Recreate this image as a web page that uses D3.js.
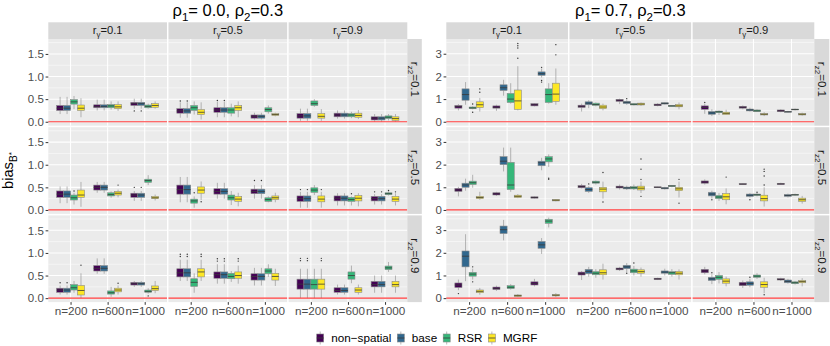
<!DOCTYPE html>
<html>
<head>
<meta charset="utf-8">
<script src="https://cdn.jsdelivr.net/npm/d3@7"></script>
<style>
  body { margin: 0; background: #fff; }
  text { font-family: "Liberation Sans", Arial, sans-serif; }
</style>
</head>
<body>
<div id="chart"></div>
<script>
// categories
var methods = ["non\u2212spatial", "base", "RSR", "MGRF"];
var methodColors = ["#440154", "#31688E", "#35B779", "#FDE725"];
var sizes = ["n=200", "n=600", "n=1000"];
var gammaLevels = ["0.1", "0.5", "0.9"];
var z2Levels = ["0.1", "0.5", "0.9"];

// tick values
var ticksLeft = [0, 0.5, 1, 1.5];
var minorLeft = [0.25, 0.75, 1.25, 1.75];
var ticksRight = [0, 1, 2, 3];
var minorRight = [0.5, 1.5, 2.5, 3.5];

// box stats: [lower whisker, q1, median, q3, upper whisker, [outliers]]
// per row: 3 columns (r_gamma) x 3 sample sizes x 4 methods

// rho1 = 0.0, rho2 = 0.3
var rho00_z01 = [
  [[[0.17,0.25,0.30,0.36,0.55,[]],[0.17,0.25,0.30,0.36,0.55,[]],[0.28,0.39,0.44,0.49,0.57,[]],[0.10,0.25,0.30,0.37,0.52,[]]],
   [[0.25,0.31,0.34,0.375,0.49,[]],[0.25,0.31,0.34,0.375,0.49,[]],[0.27,0.31,0.35,0.38,0.45,[]],[0.24,0.29,0.33,0.38,0.45,[]]],
   [[0.29,0.36,0.40,0.43,0.51,[0.24]],[0.29,0.36,0.40,0.43,0.51,[0.24]],[0.29,0.31,0.34,0.37,0.40,[]],[0.29,0.32,0.36,0.40,0.45,[]]]],
  [[[0.09,0.19,0.24,0.29,0.43,[0.46]],[0.09,0.19,0.24,0.29,0.43,[0.46]],[0.16,0.25,0.31,0.36,0.45,[]],[0.05,0.16,0.21,0.27,0.43,[]]],
   [[0.10,0.21,0.26,0.31,0.44,[0.47]],[0.10,0.21,0.26,0.31,0.44,[0.47]],[0.12,0.19,0.26,0.31,0.40,[]],[0.10,0.25,0.31,0.36,0.45,[]]],
   [[0.05,0.08,0.12,0.15,0.20,[]],[0.05,0.08,0.12,0.15,0.20,[]],[0.18,0.22,0.27,0.31,0.36,[]],[0.12,0.14,0.16,0.18,0.20,[]]]],
  [[[0.02,0.08,0.13,0.18,0.29,[]],[0.02,0.08,0.13,0.18,0.29,[]],[0.33,0.36,0.40,0.46,0.50,[]],[0.02,0.08,0.12,0.18,0.28,[]]],
   [[0.07,0.11,0.15,0.19,0.25,[]],[0.07,0.11,0.15,0.19,0.25,[]],[0.08,0.11,0.15,0.18,0.22,[]],[0.06,0.10,0.14,0.19,0.26,[]]],
   [[0.0,0.04,0.08,0.11,0.17,[]],[0.0,0.04,0.08,0.11,0.17,[]],[0.03,0.07,0.10,0.13,0.17,[]],[0.0,0.03,0.07,0.11,0.17,[]]]]
];
var rho00_z05 = [
  [[[0.15,0.28,0.35,0.42,0.52,[]],[0.15,0.28,0.35,0.42,0.52,[]],[0.12,0.22,0.27,0.33,0.38,[0.42]],[0.07,0.28,0.33,0.44,0.62,[]]],
   [[0.38,0.44,0.50,0.55,0.62,[]],[0.38,0.44,0.50,0.55,0.62,[]],[0.27,0.31,0.34,0.38,0.41,[]],[0.28,0.33,0.37,0.41,0.45,[0.55]]],
   [[0.20,0.28,0.33,0.37,0.42,[0.50]],[0.20,0.28,0.33,0.37,0.42,[0.50]],[0.55,0.61,0.65,0.68,0.77,[]],[0.21,0.25,0.27,0.30,0.34,[]]]],
  [[[0.17,0.35,0.45,0.55,0.73,[]],[0.17,0.35,0.45,0.55,0.73,[]],[0.05,0.15,0.20,0.24,0.30,[0.38]],[0.22,0.37,0.44,0.51,0.63,[0.18]]],
   [[0.25,0.35,0.41,0.47,0.60,[]],[0.25,0.35,0.41,0.47,0.60,[]],[0.11,0.22,0.27,0.33,0.42,[]],[0.08,0.19,0.24,0.30,0.38,[]]],
   [[0.25,0.36,0.41,0.46,0.55,[0.65]],[0.25,0.36,0.41,0.46,0.55,[0.65]],[0.17,0.19,0.23,0.27,0.30,[]],[0.17,0.23,0.27,0.31,0.38,[]]]],
  [[[0.05,0.19,0.25,0.31,0.40,[0.45]],[0.05,0.19,0.25,0.31,0.40,[0.45]],[0.33,0.39,0.44,0.49,0.55,[]],[0.05,0.18,0.24,0.31,0.40,[0.45]]],
   [[0.10,0.20,0.26,0.31,0.37,[]],[0.10,0.20,0.26,0.31,0.37,[]],[0.10,0.19,0.23,0.28,0.30,[0.36]],[0.08,0.20,0.26,0.32,0.37,[]]],
   [[0.12,0.20,0.25,0.30,0.35,[0.40]],[0.12,0.20,0.25,0.30,0.35,[0.40]],[0.32,0.34,0.36,0.38,0.41,[0.43]],[0.10,0.19,0.24,0.30,0.37,[0.40]]]]
];
var rho00_z09 = [
  [[[0.08,0.13,0.18,0.22,0.28,[0.34]],[0.08,0.13,0.18,0.22,0.28,[0.34]],[0.12,0.18,0.23,0.30,0.38,[]],[0.0,0.07,0.17,0.28,0.55,[0.73]]],
   [[0.54,0.60,0.66,0.72,0.88,[]],[0.54,0.60,0.66,0.72,0.88,[]],[0.03,0.09,0.12,0.16,0.25,[]],[0.08,0.14,0.18,0.22,0.28,[0.33]]],
   [[0.25,0.29,0.32,0.35,0.38,[]],[0.25,0.29,0.32,0.35,0.38,[]],[0.10,0.13,0.15,0.18,0.22,[0.05]],[0.11,0.17,0.21,0.27,0.38,[]]]],
  [[[0.38,0.47,0.56,0.65,0.85,[0.92,0.97]],[0.38,0.47,0.56,0.65,0.85,[0.92,0.97]],[0.12,0.26,0.35,0.43,0.55,[]],[0.38,0.47,0.58,0.65,0.85,[0.92,0.97]]],
   [[0.32,0.44,0.52,0.58,0.75,[0.82,0.87]],[0.32,0.44,0.52,0.58,0.75,[0.82,0.87]],[0.36,0.43,0.48,0.55,0.60,[]],[0.32,0.44,0.50,0.58,0.72,[0.82,0.87]]],
   [[0.28,0.40,0.48,0.54,0.67,[]],[0.28,0.40,0.48,0.54,0.67,[]],[0.47,0.54,0.60,0.65,0.75,[]],[0.27,0.40,0.48,0.55,0.65,[]]]],
  [[[0.0,0.20,0.31,0.42,0.65,[0.83,0.88]],[0.0,0.20,0.31,0.42,0.65,[0.83,0.88]],[0.0,0.20,0.30,0.42,0.65,[]],[0.0,0.20,0.31,0.42,0.65,[0.83,0.88]]],
   [[0.08,0.13,0.17,0.23,0.30,[]],[0.08,0.13,0.17,0.23,0.30,[]],[0.33,0.42,0.50,0.58,0.72,[]],[0.08,0.13,0.18,0.23,0.30,[]]],
   [[0.12,0.25,0.30,0.37,0.50,[]],[0.12,0.25,0.30,0.37,0.50,[]],[0.58,0.63,0.67,0.71,0.80,[]],[0.12,0.25,0.30,0.37,0.50,[]]]]
];

// rho1 = 0.7, rho2 = 0.3
var rho07_z01 = [
  [[[0.50,0.60,0.67,0.72,0.78,[]],[0.75,0.95,1.20,1.45,1.75,[]],[0.55,0.58,0.61,0.65,0.68,[0.42,0.78]],[0.45,0.62,0.75,0.88,1.05,[1.30,1.45]]],
   [[0.48,0.60,0.64,0.70,0.75,[]],[1.15,1.38,1.50,1.63,1.85,[]],[0.80,0.85,1.00,1.25,1.70,[]],[0.50,0.55,0.92,1.40,2.45,[2.80,3.25,3.35,3.45]]],
   [[0.68,0.70,0.75,0.80,0.82,[]],[1.95,2.05,2.12,2.20,2.35,[1.75,1.82,2.40]],[0.80,0.85,1.20,1.45,1.70,[]],[0.75,0.90,1.22,1.70,2.35,[2.95,3.40]]]],
  [[[0.45,0.63,0.68,0.73,0.80,[]],[0.60,0.75,0.82,0.88,0.95,[]],[0.68,0.72,0.76,0.82,0.85,[]],[0.50,0.58,0.65,0.73,0.80,[]]],
   [[0.78,0.90,0.95,0.98,1.02,[]],[0.75,0.80,0.86,0.90,0.95,[1.02]],[0.72,0.74,0.77,0.80,0.82,[]],[0.70,0.74,0.78,0.82,0.85,[]]],
   [[0.68,0.71,0.74,0.78,0.82,[]],[0.76,0.78,0.81,0.84,0.86,[]],[0.66,0.67,0.70,0.72,0.73,[]],[0.55,0.66,0.70,0.76,0.85,[]]]],
  [[[0.35,0.55,0.63,0.70,0.78,[0.85]],[0.25,0.33,0.39,0.45,0.55,[]],[0.30,0.40,0.44,0.47,0.50,[]],[0.30,0.32,0.37,0.42,0.53,[]]],
   [[0.55,0.60,0.64,0.68,0.72,[]],[0.45,0.48,0.52,0.56,0.62,[]],[0.43,0.45,0.48,0.52,0.55,[]],[0.25,0.30,0.33,0.36,0.42,[]]],
   [[0.42,0.45,0.48,0.52,0.55,[]],[0.40,0.42,0.44,0.46,0.48,[]],[0.50,0.52,0.54,0.56,0.58,[]],[0.27,0.30,0.33,0.36,0.40,[]]]]
];
var rho07_z05 = [
  [[[0.60,0.82,0.88,0.95,1.02,[]],[0.85,1.00,1.10,1.18,1.38,[]],[0.98,1.12,1.20,1.27,1.55,[]],[0.45,0.50,0.55,0.60,0.80,[]]],
   [[0.62,0.66,0.71,0.76,0.80,[]],[1.70,2.00,2.15,2.35,2.75,[]],[0.80,0.90,1.10,2.10,2.75,[]],[0.52,0.55,0.60,0.65,0.70,[]]],
   [[0.50,0.52,0.55,0.58,0.60,[]],[1.75,1.95,2.08,2.15,2.30,[]],[1.90,2.12,2.25,2.35,2.45,[1.35,1.40]],[0.38,0.40,0.43,0.46,0.48,[]]]],
  [[[0.95,0.98,1.03,1.08,1.15,[]],[0.75,0.82,0.90,0.98,1.05,[1.15]],[1.12,1.18,1.22,1.27,1.30,[]],[0.50,0.80,0.92,1.00,1.25,[0.35,1.65]]],
   [[0.90,0.97,1.01,1.05,1.12,[]],[0.88,0.93,0.97,1.01,1.07,[]],[0.88,0.93,0.98,1.03,1.12,[]],[0.75,0.88,0.96,1.05,1.25,[0.60,1.35,1.80,2.25]]],
   [[0.98,0.99,1.00,1.02,1.03,[]],[0.90,0.93,0.96,0.99,1.02,[]],[1.00,1.03,1.06,1.08,1.10,[]],[0.55,0.85,0.93,1.00,1.25,[0.30,1.35]]]],
  [[[1.12,1.18,1.23,1.28,1.35,[]],[0.50,0.62,0.70,0.78,0.85,[0.45]],[0.40,0.50,0.57,0.64,0.75,[]],[0.25,0.45,0.58,0.72,0.95,[1.45]]],
   [[1.10,1.12,1.14,1.16,1.18,[]],[0.55,0.60,0.65,0.70,0.75,[0.45]],[0.60,0.64,0.67,0.70,0.75,[0.78]],[0.15,0.40,0.50,0.65,1.00,[1.10,1.50,1.70,1.80]]],
   [[1.10,1.12,1.15,1.17,1.20,[]],[0.55,0.60,0.64,0.68,0.72,[]],[0.62,0.65,0.67,0.69,0.72,[]],[0.28,0.38,0.45,0.52,0.62,[]]]]
];
var rho07_z09 = [
  [[[0.35,0.47,0.58,0.67,0.82,[0.20]],[0.75,1.38,1.85,2.08,2.82,[]],[0.82,0.97,1.06,1.14,1.30,[0.72,1.38]],[0.15,0.24,0.30,0.36,0.45,[]]],
   [[0.32,0.38,0.43,0.49,0.55,[]],[2.55,2.85,3.02,3.18,3.45,[]],[0.38,0.42,0.48,0.55,0.62,[]],[0.05,0.08,0.11,0.14,0.18,[]]],
   [[0.52,0.58,0.65,0.72,0.85,[]],[1.95,2.20,2.35,2.50,2.65,[]],[3.12,3.30,3.40,3.48,3.55,[]],[0.05,0.10,0.13,0.16,0.22,[]]]],
  [[[0.80,1.02,1.08,1.15,1.20,[]],[0.95,1.08,1.18,1.27,1.38,[]],[0.90,1.03,1.10,1.17,1.28,[]],[0.82,1.03,1.12,1.25,1.52,[]]],
   [[1.20,1.25,1.29,1.33,1.38,[]],[1.15,1.30,1.38,1.45,1.55,[1.10]],[1.00,1.12,1.20,1.28,1.42,[1.55]],[0.95,1.10,1.17,1.25,1.35,[]]],
   [[0.80,0.82,0.85,0.88,0.90,[]],[1.00,1.10,1.15,1.20,1.30,[]],[0.95,1.05,1.12,1.17,1.28,[]],[0.82,1.03,1.10,1.18,1.27,[]]]],
  [[[1.05,1.12,1.20,1.27,1.38,[]],[0.62,0.78,0.85,0.92,1.05,[1.12]],[0.65,0.83,0.92,1.00,1.15,[]],[0.52,0.66,0.75,0.85,0.95,[]]],
   [[0.45,0.55,0.62,0.70,0.78,[]],[0.48,0.57,0.65,0.72,0.85,[0.92]],[0.85,0.92,0.97,1.02,1.10,[]],[0.22,0.48,0.60,0.72,0.90,[0.15]]],
   [[0.76,0.80,0.83,0.86,0.90,[]],[0.64,0.68,0.74,0.80,0.85,[]],[0.60,0.64,0.68,0.72,0.76,[]],[0.52,0.68,0.73,0.78,0.88,[]]]]
];

// ---------------- layout ----------------
var width = 830, height = 346;
var stripTop = 22.3, stripH = 16.7;
var plotTop = stripTop + stripH;
var rowH = 86.7, rowGap = 1.5;

var svg = d3.select("#chart")
  .append("svg")
  .attr("width", width)
  .attr("height", height);

// write text with sub/superscript pieces: [text, shift (em), size factor]
function richText(sel, parts, size) {
  var prev = 0;
  parts.forEach(function (p) {
    var shift = (p[1] || 0) * size;
    sel.append("tspan")
      .attr("dy", shift - prev)
      .attr("font-size", size * (p[2] || 1))
      .text(p[0]);
    prev = shift;
  });
  return sel;
}

function drawPanel(cfg) {
  var g = svg.append("g");
  var colW = (cfg.x1 - cfg.x0 - 2 * rowGap) / 3;

  // title
  var title = g.append("text")
    .attr("x", (cfg.x0 + cfg.x1) / 2)
    .attr("y", 16)
    .attr("text-anchor", "middle")
    .attr("fill", "#000");
  richText(title, cfg.title, 16.5);

  cfg.rows.forEach(function (rowData, ri) {
    var top = plotTop + ri * (rowH + rowGap);
    var y = d3.scaleLinear().domain(cfg.yDomain).range([top + rowH, top]);

    rowData.forEach(function (cell, ci) {
      var cx0 = cfg.x0 + ci * (colW + rowGap);
      var x = d3.scalePoint().domain(sizes).range([cx0, cx0 + colW]).padding(0.6);
      var slot = x.step() * 0.75 / methods.length;
      var cg = g.append("g");

      // background + grid
      cg.append("rect")
        .attr("x", cx0).attr("y", top)
        .attr("width", colW).attr("height", rowH)
        .attr("fill", "#EBEBEB");
      cg.selectAll(".minor").data(cfg.minor.filter(function (v) { return y(v) > top; }))
        .join("line")
        .attr("x1", cx0).attr("x2", cx0 + colW)
        .attr("y1", function (d) { return y(d); }).attr("y2", function (d) { return y(d); })
        .attr("stroke", "#fff").attr("stroke-width", 0.5);
      cg.selectAll(".major").data(cfg.ticks)
        .join("line")
        .attr("x1", cx0).attr("x2", cx0 + colW)
        .attr("y1", function (d) { return y(d); }).attr("y2", function (d) { return y(d); })
        .attr("stroke", "#fff").attr("stroke-width", 1.05);
      cg.selectAll(".vgrid").data(sizes)
        .join("line")
        .attr("x1", function (d) { return x(d); }).attr("x2", function (d) { return x(d); })
        .attr("y1", top).attr("y2", top + rowH)
        .attr("stroke", "#fff").attr("stroke-width", 1.05);

      // flatten the boxes of this facet
      var boxes = [];
      cell.forEach(function (grp, gi) {
        grp.forEach(function (b, mi) {
          boxes.push({
            cx: x(sizes[gi]) + (mi - (methods.length - 1) / 2) * slot,
            lo: b[0], q1: b[1], med: b[2], q3: b[3], hi: b[4], out: b[5],
            color: methodColors[mi]
          });
        });
      });

      var bg = cg.selectAll(".box").data(boxes).join("g");
      bg.append("line")
        .attr("x1", function (d) { return d.cx; }).attr("x2", function (d) { return d.cx; })
        .attr("y1", function (d) { return y(d.hi); }).attr("y2", function (d) { return y(d.q3); })
        .attr("stroke", "#8a8a8a").attr("stroke-width", 0.6);
      bg.append("line")
        .attr("x1", function (d) { return d.cx; }).attr("x2", function (d) { return d.cx; })
        .attr("y1", function (d) { return y(d.q1); }).attr("y2", function (d) { return y(d.lo); })
        .attr("stroke", "#8a8a8a").attr("stroke-width", 0.6);
      bg.append("rect")
        .attr("x", function (d) { return d.cx - slot / 2; })
        .attr("width", slot)
        .attr("y", function (d) { return y(d.q3); })
        .attr("height", function (d) { return Math.max(0.8, y(d.q1) - y(d.q3)); })
        .attr("fill", function (d) { return d.color; })
        .attr("stroke", "#8a8a8a").attr("stroke-width", 0.6);
      bg.append("line")
        .attr("x1", function (d) { return d.cx - slot / 2; }).attr("x2", function (d) { return d.cx + slot / 2; })
        .attr("y1", function (d) { return y(d.med); }).attr("y2", function (d) { return y(d.med); })
        .attr("stroke", "#3a3a3a").attr("stroke-width", 0.8);
      bg.selectAll("circle")
        .data(function (d) { return d.out.map(function (v) { return { cx: d.cx, v: v }; }); })
        .join("circle")
        .attr("cx", function (d) { return d.cx; })
        .attr("cy", function (d) { return y(d.v); })
        .attr("r", 0.7)
        .attr("fill", "#333");

      // zero reference line
      cg.append("line")
        .attr("x1", cx0).attr("x2", cx0 + colW)
        .attr("y1", y(0)).attr("y2", y(0))
        .attr("stroke", "#ff3b3b").attr("stroke-width", 1.2);

      // y axis on the first column
      if (ci === 0) {
        var ya = g.append("g")
          .attr("transform", "translate(" + cx0 + ",0)")
          .call(d3.axisLeft(y).tickValues(cfg.ticks).tickFormat(cfg.fmt).tickSize(2.7).tickPadding(1.8));
        ya.select(".domain").remove();
        ya.selectAll("line").attr("stroke", "#333");
        ya.selectAll("text").attr("fill", "#4D4D4D").attr("font-size", 11.5)
          .style("font-family", "'Liberation Sans', Arial, sans-serif");
      }

      // x axis on the bottom row
      if (ri === cfg.rows.length - 1) {
        var xa = g.append("g")
          .attr("transform", "translate(0," + (top + rowH) + ")")
          .call(d3.axisBottom(x).tickSize(2.7).tickPadding(2));
        xa.select(".domain").remove();
        xa.selectAll("line").attr("stroke", "#333");
        xa.selectAll("text").attr("fill", "#4D4D4D").attr("font-size", 11.7)
          .style("font-family", "'Liberation Sans', Arial, sans-serif");
      }

      // top strips
      if (ri === 0) {
        g.append("rect")
          .attr("x", cx0).attr("y", stripTop)
          .attr("width", colW).attr("height", stripH)
          .attr("fill", "#D9D9D9");
        var st = g.append("text")
          .attr("x", cx0 + colW / 2).attr("y", stripTop + 11.6)
          .attr("text-anchor", "middle").attr("fill", "#1A1A1A");
        richText(st, [["r"], ["\u03B3", 0.3, 0.7], ["=" + gammaLevels[ci], 0]], 11.2);
      }
    });

    // right strip
    var sx = cfg.x1;
    g.append("rect")
      .attr("x", sx).attr("y", top)
      .attr("width", cfg.stripW).attr("height", rowH)
      .attr("fill", "#D9D9D9");
    var rs = g.append("text")
      .attr("transform", "translate(" + (sx + cfg.stripW / 2 - 3.5) + "," + (top + rowH / 2 - 3) + ") rotate(90)")
      .attr("text-anchor", "middle").attr("fill", "#1A1A1A");
    richText(rs, [["r"], ["z2", 0.3, 0.7], ["=" + z2Levels[ri], 0]], 11.5);
  });
}

drawPanel({
  x0: 48.3, x1: 407.3, stripW: 14.5,
  yDomain: [-0.087, 1.83], ticks: ticksLeft, minor: minorLeft,
  fmt: d3.format(".1f"),
  rows: [rho00_z01, rho00_z05, rho00_z09],
  title: [["\u03C1"], ["1", 0.3, 0.7], ["= 0.0, \u03C1", 0], ["2", 0.3, 0.7], ["=0.3", 0]]
});

drawPanel({
  x0: 446.3, x1: 814.3, stripW: 15,
  yDomain: [-0.174, 3.65], ticks: ticksRight, minor: minorRight,
  fmt: d3.format("d"),
  rows: [rho07_z01, rho07_z05, rho07_z09],
  title: [["\u03C1"], ["1", 0.3, 0.7], ["= 0.7, \u03C1", 0], ["2", 0.3, 0.7], ["=0.3", 0]]
});

// y axis title
var yl = svg.append("text")
  .attr("transform", "translate(13," + (plotTop + (3 * rowH + 2 * rowGap) / 2) + ") rotate(-90)")
  .attr("text-anchor", "middle").attr("fill", "#000");
richText(yl, [["bias"], ["B", 0.3, 0.7], ["*", 0.05, 0.55]], 14.7);

// legend
var legend = svg.append("g");
var cursor = 0;
methods.forEach(function (m, i) {
  var item = legend.append("g").attr("transform", "translate(" + cursor + ",0)");
  item.append("line")
    .attr("x1", 3.5).attr("x2", 3.5).attr("y1", -6.5).attr("y2", 6.5)
    .attr("stroke", "#8a8a8a").attr("stroke-width", 0.6);
  item.append("rect")
    .attr("x", 0).attr("y", -4).attr("width", 7).attr("height", 8)
    .attr("fill", methodColors[i]).attr("stroke", "#8a8a8a").attr("stroke-width", 0.6);
  item.append("line")
    .attr("x1", 0).attr("x2", 7).attr("y1", 0).attr("y2", 0)
    .attr("stroke", "#3a3a3a").attr("stroke-width", 0.8);
  var t = item.append("text")
    .attr("x", 14.5).attr("y", 4.2)
    .attr("font-size", 11.7).attr("fill", "#000")
    .text(m);
  cursor += 14.5 + t.node().getComputedTextLength() + 6;
});
legend.attr("transform", "translate(" + (427 - (cursor - 6) / 2) + ",338)");
</script>
</body>
</html>
